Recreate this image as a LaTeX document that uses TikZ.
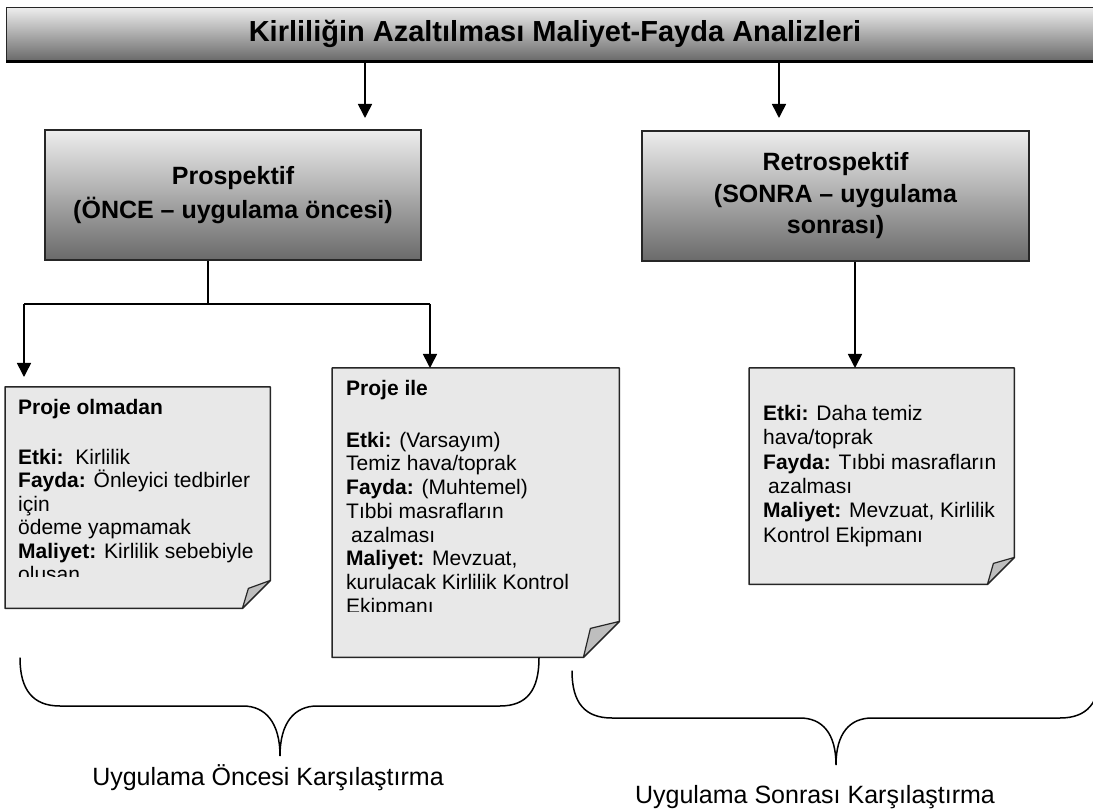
\documentclass[tikz,border=0pt]{standalone}
\usepackage{fontspec}
\setmainfont{Liberation Sans}
\usetikzlibrary{arrows.meta}
\definecolor{boxfill}{HTML}{E8E8E8}
\definecolor{foldfill}{HTML}{BEBEBE}
\definecolor{gtop}{HTML}{EDEDED}
\definecolor{gbot}{HTML}{6A6A6A}
\tikzset{
  conn/.style={line width=1.6pt, draw=black},
  arr/.style={conn, -{Triangle[width=14pt,length=14pt]}},
  hdr/.style={draw=black!85, line width=1.5pt, top color=gtop, bottom color=gbot,
    minimum height=130pt, inner sep=0pt, align=center,
    font=\fontsize{25}{34}\selectfont\bfseries},
  note/.style={draw=black!85, line width=1.5pt, fill=boxfill, line join=round},
  fold/.style={draw=black!85, line width=1.2pt, fill=foldfill, line join=round},
  frame/.style={anchor=north west, inner sep=0pt},
  notetext/.style={anchor=north west, inner sep=0pt, align=left},
  brace/.style={line width=1.5pt, line cap=round},
  lbl/.style={font=\fontsize{25}{30}\selectfont, inner sep=0pt, anchor=base}
}
\begin{document}
\begin{tikzpicture}[x=1pt,y=-1pt]
\useasboundingbox (0,0) rectangle (1093,810);
\clip (0,0) rectangle (1093,810);

% title bar
\node[frame, draw=black!85, line width=1.2pt, top color=gtop, bottom color=gbot,
  minimum width=1100pt, minimum height=53pt] (title) at (6,7) {};
\draw[line width=3pt] (title.south west) -- (title.south east);
\node[font=\fontsize{29}{34}\selectfont\bfseries, inner sep=0pt] (ttext) at (555,33.5)
  {Kirliliğin Azaltılması Maliyet-Fayda Analizleri};

% header boxes
\node[hdr, minimum width=376pt] (pro) at (233,195) {Prospektif\\(ÖNCE – uygulama öncesi)};
\node[hdr, minimum width=387pt, font=\fontsize{25}{31.5}\selectfont\bfseries] (retro) at (835.5,196)
  {Retrospektif\\(SONRA – uygulama\\sonrası)};

% note frames (for naming)
\node[frame, minimum width=265pt, minimum height=221pt] (n1) at (5,387) {};
\node[frame, minimum width=287pt, minimum height=289pt] (n2) at (332,368) {};
\node[frame, minimum width=265pt, minimum height=216pt] (n3) at (749,368) {};

% note shapes
\draw[note] (n1.north west) -- (n1.north east) -- ([yshift=28pt]n1.south east)
  -- ([xshift=-28pt]n1.south east) -- (n1.south west) -- cycle;
\draw[fold] ([xshift=-28pt]n1.south east) -- ([yshift=28pt]n1.south east)
  -- ([xshift=-22pt,yshift=20pt]n1.south east) -- cycle;

\draw[note] (n2.north west) -- (n2.north east) -- ([yshift=36pt]n2.south east)
  -- ([xshift=-36pt]n2.south east) -- (n2.south west) -- cycle;
\draw[fold] ([xshift=-36pt]n2.south east) -- ([yshift=36pt]n2.south east)
  -- ([xshift=-29pt,yshift=29pt]n2.south east) -- cycle;

\draw[note] (n3.north west) -- (n3.north east) -- ([yshift=27pt]n3.south east)
  -- ([xshift=-27pt]n3.south east) -- (n3.south west) -- cycle;
\draw[fold] ([xshift=-27pt]n3.south east) -- ([yshift=27pt]n3.south east)
  -- ([xshift=-21pt,yshift=21pt]n3.south east) -- cycle;

% note texts
\begin{scope}
\clip (0,380) rectangle (300,576);
\node[notetext, font=\fontsize{21}{23.5}\selectfont] (t1) at (18,398)
 {\rule{0pt}{16pt}\textbf{Proje olmadan}\\[26.5pt]
  \textbf{Etki:}\ \ Kirlilik\\
  \textbf{Fayda:} Önleyici tedbirler\\
  için\\
  ödeme yapmamak\\
  \textbf{Maliyet:} Kirlilik sebebiyle\\
  oluşan};
\end{scope}
\begin{scope}
\clip (330,360) rectangle (620,611);
\node[notetext, font=\fontsize{21}{23.7}\selectfont] (t2) at (346,379)
 {\rule{0pt}{16pt}\textbf{Proje ile}\\[28.3pt]
  \textbf{Etki:} (Varsayım)\\
  Temiz hava/toprak\\
  \textbf{Fayda:} (Muhtemel)\\
  Tıbbi masrafların\\
  \hspace*{5pt}azalması\\
  \textbf{Maliyet:} Mevzuat,\\
  kurulacak Kirlilik Kontrol\\
  Ekipmanı};
\end{scope}
\node[notetext, font=\fontsize{21}{24.4}\selectfont] (t3) at (763,404)
 {\rule{0pt}{16pt}\textbf{Etki:} Daha temiz\\
  hava/toprak\\
  \textbf{Fayda:} Tıbbi masrafların\\
  \hspace*{5pt}azalması\\
  \textbf{Maliyet:} Mevzuat, Kirlilik\\
  Kontrol Ekipmanı};

% connectors
\coordinate (ta) at (365,118);
\coordinate (tb) at (779,118);
\draw[arr] (title.south -| ta) -- (ta);
\draw[arr] (title.south -| tb) -- (tb);

\coordinate (pj) at (208,304);
\coordinate (pl) at (24,304);
\coordinate (pr) at (430,304);
\coordinate (pe) at (24,377);
\draw[conn] (pro.south -| pj) -- (pj);
\draw[conn] (pl) -- (pr);
\draw[arr] (pl) -- (pe);
\draw[arr] (pr) -- (pr |- n2.north);
\coordinate (rj) at (855,300);
\draw[arr] (retro.south -| rj) -- (n3.north -| rj);

% braces
\draw[brace] (20,658) .. controls (20,690) and (33,706) .. (60,706) -- (243,706)
  .. controls (265,706) and (280,722) .. (280,756)
  .. controls (280,722) and (295,706) .. (317,706) -- (500,706)
  .. controls (527,706) and (539,690) .. (539,658);
\draw[brace] (572,671) .. controls (572,703) and (585,718) .. (612,718) -- (800,718)
  .. controls (822,718) and (836,733) .. (836,765)
  .. controls (836,733) and (850,718) .. (872,718) -- (1060,718)
  .. controls (1087,718) and (1100,703) .. (1100,671);

\node[lbl] (l1) at (268,785) {Uygulama Öncesi Karşılaştırma};
\node[lbl] (l2) at (815,803) {Uygulama Sonrası Karşılaştırma};
\end{tikzpicture}
\end{document}
